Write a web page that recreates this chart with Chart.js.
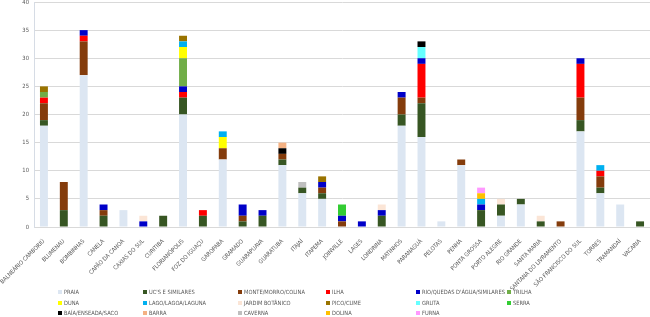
<!DOCTYPE html>
<html>
<head>
<meta charset="utf-8">
<script src="https://cdn.jsdelivr.net/npm/chart.js@4.4.1/dist/chart.umd.min.js"></script>
<style>
  body { margin: 0; background: #fff; }
  #wrap { position: relative; width: 650px; height: 290px; }
  #legend { position: absolute; left: 0; top: 289px; width: 650px; height: 28px;
            font-family: "Liberation Sans Narrow", "DejaVu Sans Condensed", sans-serif; font-size: 5.7px; color: #595959; }
  .item { position: absolute; white-space: nowrap; line-height: 7px; }
  .box { display: inline-block; width: 4px; height: 4px; margin-right: 2px; vertical-align: 0px; }
</style>
</head>
<body>
<div id="wrap"><canvas id="grafik"></canvas></div>
<div id="legend"></div>
<script>
const cidades = [
    "BALNEÁRIO CAMBORIÚ", "BLUMENAU", "BOMBINHAS", "CANELA", "CAPÃO DA CANOA",
    "CAXIAS DO SUL", "CURITIBA", "FLORIANÓPOLIS", "FOZ DO IGUAÇU", "GAROPABA",
    "GRAMADO", "GUARAPUAVA", "GUARATUBA", "ITAJAÍ", "ITAPEMA", "JOINVILLE",
    "LAGES", "LONDRINA", "MATINHOS", "PARANAGUÁ", "PELOTAS", "PENHA",
    "PONTA GROSSA", "PORTO ALEGRE", "RIO GRANDE", "SANTA MARIA",
    "SANTANA DO LIVRAMENTO", "SÃO FRANCISCO DO SUL", "TORRES", "TRAMANDAÍ", "VACARIA",
];

const praia    = [18,0,27,0,3,0,0,20,0,12,0,0,11,6,5,0,0,0,18,16,1,11,0,2,4,0,0,17,6,4,0];
const ucs      = [1,3,0,2,0,0,2,3,2,0,1,2,1,1,1,0,0,2,2,6,0,0,3,2,1,1,0,2,1,0,1];
const monte    = [3,5,6,1,0,0,0,0,0,2,1,0,1,0,1,1,0,0,3,1,0,1,0,0,0,0,1,4,2,0,0];
const ilha     = [1,0,1,0,0,0,0,1,1,0,0,0,0,0,0,0,0,0,0,6,0,0,0,0,0,0,0,6,1,0,0];
const rio      = [0,0,1,1,0,1,0,1,0,0,2,1,0,0,1,1,1,1,1,1,0,0,1,0,0,0,0,1,0,0,0];
const trilha   = [1,0,0,0,0,0,0,5,0,0,0,0,0,0,0,0,0,0,0,0,0,0,0,0,0,0,0,0,0,0,0];
const duna     = [0,0,0,0,0,0,0,2,0,2,0,0,0,0,0,0,0,0,0,0,0,0,0,0,0,0,0,0,0,0,0];
const lago     = [0,0,0,0,0,0,0,1,0,1,0,0,0,0,0,0,0,0,0,0,0,0,1,0,0,0,0,0,1,0,0];
const jardim   = [0,0,0,0,0,1,0,0,0,0,0,0,0,0,0,0,0,1,0,0,0,0,0,1,0,1,0,0,0,0,0];
const pico     = [1,0,0,0,0,0,0,1,0,0,0,0,0,0,1,0,0,0,0,0,0,0,0,0,0,0,0,0,0,0,0];
const gruta    = [0,0,0,0,0,0,0,0,0,0,0,0,0,0,0,0,0,0,0,2,0,0,0,0,0,0,0,0,0,0,0];
const serra    = [0,0,0,0,0,0,0,0,0,0,0,0,0,0,0,2,0,0,0,0,0,0,0,0,0,0,0,0,0,0,0];
const baia     = [0,0,0,0,0,0,0,0,0,0,0,0,1,0,0,0,0,0,0,1,0,0,0,0,0,0,0,0,0,0,0];
const barra    = [0,0,0,0,0,0,0,0,0,0,0,0,1,0,0,0,0,0,0,0,0,0,0,0,0,0,0,0,0,0,0];
const caverna  = [0,0,0,0,0,0,0,0,0,0,0,0,0,1,0,0,0,0,0,0,0,0,0,0,0,0,0,0,0,0,0];
const dolina   = [0,0,0,0,0,0,0,0,0,0,0,0,0,0,0,0,0,0,0,0,0,0,1,0,0,0,0,0,0,0,0];
const furna    = [0,0,0,0,0,0,0,0,0,0,0,0,0,0,0,0,0,0,0,0,0,0,1,0,0,0,0,0,0,0,0];

const yTicks = [0, 5, 10, 15, 20, 25, 30, 35, 40];

const series = [
    ["PRAIA", praia, "#DCE6F2"],
    ["UC'S E SIMILARES", ucs, "#375623"],
    ["MONTE/MORRO/COLINA", monte, "#843C0C"],
    ["ILHA", ilha, "#FF0000"],
    ["RIO/QUEDAS D'ÁGUA/SIMILARES", rio, "#0000C8"],
    ["TRILHA", trilha, "#70AD47"],
    ["DUNA", duna, "#FFFF00"],
    ["LAGO/LAGOA/LAGUNA", lago, "#00B0F0"],
    ["JARDIM BOTÂNICO", jardim, "#FBE5D6"],
    ["PICO/CUME", pico, "#997300"],
    ["GRUTA", gruta, "#66FFFF"],
    ["SERRA", serra, "#33CC33"],
    ["BAÍA/ENSEADA/SACO", baia, "#000000"],
    ["BARRA", barra, "#F4B183"],
    ["CAVERNA", caverna, "#BFBFBF"],
    ["DOLINA", dolina, "#FFC000"],
    ["FURNA", furna, "#FF99FF"],
];

const datasets = series.map(([label, values, color]) => ({
    label: label,
    data: values,
    backgroundColor: color,
    borderWidth: 0,
    categoryPercentage: 1,
    barPercentage: 0.4,
}));

// legend in 6 columns like the original spreadsheet chart
const colX = [58, 143, 238, 326, 416, 507];
const htmlLegend = {
    id: "htmlLegend",
    afterUpdate(chart) {
        const box = document.getElementById("legend");
        box.innerHTML = "";
        chart.data.datasets.forEach((ds, i) => {
            const el = document.createElement("div");
            el.className = "item";
            el.style.left = colX[i % 6] + "px";
            el.style.top = (Math.floor(i / 6) * 10.5) + "px";
            el.innerHTML = '<span class="box" style="background:' + ds.backgroundColor + '"></span>' + ds.label;
            box.appendChild(el);
        });
    },
};

const tickFont = { family: "Liberation Sans Narrow, DejaVu Sans Condensed, sans-serif", size: 5.8 };

const config = {
    type: "bar",
    data: { labels: cidades, datasets: datasets },
    options: {
        responsive: true,
        maintainAspectRatio: false,
        animation: false,
        layout: { padding: { top: 2, right: 0, left: 0, bottom: 0 } },
        plugins: {
            legend: { display: false },
            tooltip: { enabled: false },
        },
        scales: {
            x: {
                stacked: true,
                grid: { display: false },
                border: { color: "#D9D9D9" },
                ticks: {
                    autoSkip: false,
                    maxRotation: 45,
                    minRotation: 45,
                    padding: 3,
                    color: "#595959",
                    font: tickFont,
                },
                afterFit: (scale) => { scale.height = 63; scale.paddingLeft = 0; scale.paddingRight = 0; },
            },
            y: {
                stacked: true,
                min: 0,
                max: 40,
                afterBuildTicks: (scale) => { scale.ticks = yTicks.map(v => ({ value: v })); },
                grid: { color: "#D9D9D9", drawTicks: false },
                border: { color: "#D6DCE5" },
                ticks: {
                    padding: 5,
                    color: "#595959",
                    font: tickFont,
                },
                afterFit: (scale) => { scale.width = 34; scale.paddingTop = 0; scale.paddingBottom = 0; },
            },
        },
    },
    plugins: [htmlLegend],
};

new Chart(document.getElementById("grafik"), config);
</script>
</body>
</html>
